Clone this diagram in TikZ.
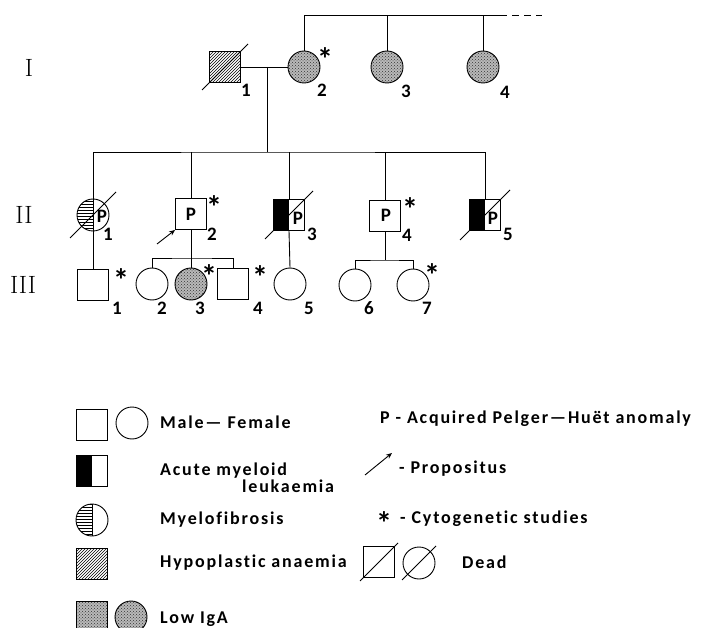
\documentclass[tikz,border=0pt]{standalone}
\usepackage{fontspec}
\newfontfamily\legendfont[LetterSpace=10, Ligatures=NoCommon]{Carlito}
\newfontfamily\numfont{Carlito}
\usetikzlibrary{patterns,calc,arrows.meta}
\tikzset{
  person/.style={draw, line width=0.9pt, inner sep=0pt},
  male/.style={person, rectangle, minimum size=31pt},
  female/.style={person, circle, minimum size=32pt},
  lowiga/.style={preaction={fill=gray!55}, pattern=crosshatch dots, pattern color=black!80},
  hypo/.style={pattern=north east lines},
  aml/.style={path picture={\fill (path picture bounding box.north west) rectangle (path picture bounding box.south);}},
  myelo/.style={path picture={\fill[pattern=horizontal lines] (path picture bounding box.north west) rectangle (path picture bounding box.south);
      \draw[line width=0.9pt] (path picture bounding box.north) -- (path picture bounding box.south);}},
  num/.style={font=\numfont\bfseries\fontsize{19}{19}\selectfont, anchor=base, inner sep=0pt},
  pmark/.style={font=\numfont\bfseries\fontsize{19}{19}\selectfont, inner sep=0pt},
  star/.style={font=\numfont\bfseries\fontsize{32}{32}\selectfont, anchor=base, inner sep=0pt},
  gen/.style={font=\fontsize{25}{25}\selectfont, inner sep=0pt},
  legtext/.style={font=\legendfont\bfseries\fontsize{18}{18}\selectfont, anchor=base west, inner sep=0pt},
  link/.style={line width=0.9pt}
}
\newcommand{\deadmark}[2]{\draw[link] ($(#1)+(-#2,#2)$) -- ($(#1)+(#2,-#2)$);}
\begin{document}
\begin{tikzpicture}[x=1pt, y=-1pt]
  \clip (0,0) rectangle (704,628);
  % generation labels
  \node[gen] (gI) at (29,68) {I};
  \node[gen] (gII) at (24,215) {II};
  \node[gen] (gIII) at (23,285) {III};

  % generation I
  \node[male, hypo] (I1) at (225,67) {};
  \node[female, lowiga] (I2) at (304,67) {};
  \node[female, lowiga] (I3) at (387,67) {};
  \node[female, lowiga] (I4) at (483,67) {};
  \coordinate (topR) at (500,15);
  \coordinate (topD) at (542,15);
  \draw[link] (I2.north) |- (topR);
  \draw[link] (I3.north) -- (I3.north |- topR);
  \draw[link] (I4.north) -- (I4.north |- topR);
  \draw[link, dash pattern=on 7pt off 5pt] (topR) -- (topD);
  \draw[link] (I1.east) -- (I2.west);
  \coordinate (mI) at (267,67);
  \coordinate (sibII) at (267,152);
  \draw[link] (mI) -- (sibII);
  \deadmark{I1}{23}
  \node[num] (nI1) at (246,97) {1};
  \node[num] (nI2) at (322,97) {2};
  \node[num] (nI3) at (406,98) {3};
  \node[num] (nI4) at (505,99) {4};
  \node[star] (sI2) at (325,71) {*};

  % generation II
  \node[female, myelo] (II1) at (93,215) {};
  \node[male] (II2) at (191,214) {};
  \node[male, aml] (II3) at (289,215) {};
  \node[male] (II4) at (385,216) {};
  \node[male, aml] (II5) at (485,215) {};
  \draw[link] (II1.north) |- (sibII) -| (II5.north);
  \draw[link] (II2.north) -- (II2.north |- sibII);
  \draw[link] (II3.north) -- (II3.north |- sibII);
  \draw[link] (II4.north) -- (II4.north |- sibII);
  \node[pmark] (pII1) at (102,216) {P};
  \node[pmark] (pII2) at (191,214) {P};
  \node[pmark] (pII3) at (298,218) {P};
  \node[pmark] (pII4) at (386,215) {P};
  \node[pmark] (pII5) at (493,218) {P};
  \deadmark{II1}{23}
  \deadmark{II3}{24}
  \deadmark{II5}{25}
  \coordinate (propS) at (157,244);
  \draw[link, -{Stealth[length=6pt, width=5pt]}] (propS) -- (II2.south west);
  \node[num] (nII1) at (108,241) {1};
  \node[num] (nII2) at (212,241) {2};
  \node[num] (nII3) at (312,241) {3};
  \node[num] (nII4) at (407,242) {4};
  \node[num] (nII5) at (508,241) {5};
  \node[star] (sII2) at (214,219) {*};
  \node[star] (sII4) at (410,221) {*};

  % generation III
  \node[male] (III1) at (93,285) {};
  \node[female] (III2) at (152,284) {};
  \node[female, lowiga] (III3) at (191,284) {};
  \node[male] (III4) at (233,284) {};
  \node[female] (III5) at (290,284) {};
  \node[female] (III6) at (355,285) {};
  \node[female] (III7) at (413,285) {};
  \draw[link] (II1.south) -- (III1.north);
  \coordinate (sibA) at (191,258);
  \draw[link] (II2.south) -- (sibA);
  \draw[link] (III2.north) |- (sibA) -| (III4.north);
  \draw[link] (III3.north) -- (sibA);
  \draw[link] (II3.south) -- (III5.north);
  \coordinate (sibB) at (385,260);
  \draw[link] (II4.south) -- (sibB);
  \draw[link] (III6.north) |- (sibB) -| (III7.north);
  \node[num] (nIII1) at (117,315) {1};
  \node[num] (nIII2) at (162,315) {2};
  \node[num] (nIII3) at (200,315) {3};
  \node[num] (nIII4) at (258,315) {4};
  \node[num] (nIII5) at (309,315) {5};
  \node[num] (nIII6) at (369,315) {6};
  \node[num] (nIII7) at (427,315) {7};
  \node[star] (sIII1) at (121,291) {*};
  \node[star] (sIII3) at (209,288) {*};
  \node[star] (sIII4) at (260,289) {*};
  \node[star] (sIII7) at (432,287) {*};

  % legend, left column
  \node[male] (legM) at (92,425) {};
  \node[female] (legF) at (132,423) {};
  \node[legtext] (tM) at (160,428) {Male— Female};
  \node[male, aml] (legAML) at (92,471) {};
  \node[legtext] (tAML) at (160,475) {Acute myeloid};
  \node[legtext] (tAML2) at (242,492) {leukaemia};
  \node[female, myelo] (legMF) at (92,520) {};
  \node[legtext] (tMF) at (160,524) {Myelofibrosis};
  \node[male, hypo] (legHA) at (92,564) {};
  \node[legtext] (tHA) at (160,567) {Hypoplastic anaemia};
  \node[male, lowiga] (legLM) at (92,617) {};
  \node[female, lowiga] (legLF) at (131,617) {};
  \node[legtext] (tLI) at (160,623) {Low IgA};

  % legend, right column
  \node[legtext] (tP) at (380,423) {P - Acquired Pelger—Huët anomaly};
  \coordinate (arrS) at (365,475);
  \coordinate (arrE) at (392,453);
  \draw[link, -{Stealth[length=6pt, width=5pt]}] (arrS) -- (arrE);
  \node[legtext] (tPr) at (399,473) {- Propositus};
  \node[star, anchor=base west] (sLeg) at (376,534) {*};
  \node[legtext] (tCy) at (400,523) {- Cytogenetic studies};
  \node[male] (legDM) at (379,562) {};
  \node[female] (legDF) at (419,563) {};
  \deadmark{legDM}{19}
  \deadmark{legDF}{17}
  \node[legtext] (tD) at (462,568) {Dead};
\end{tikzpicture}
\end{document}
